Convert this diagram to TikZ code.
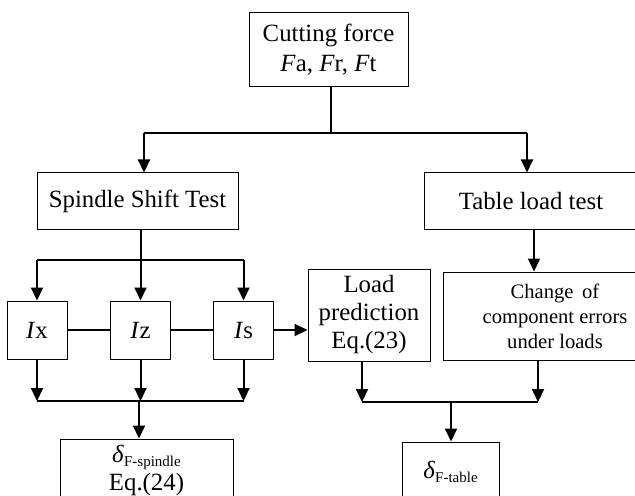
\documentclass[tikz,border=0pt]{standalone}
\usepackage{fontspec}
\setmainfont{Liberation Serif}
\usepackage{tikz}
\usetikzlibrary{arrows.meta}
\tikzstyle{arrow} = [line width=1pt,-{Triangle[length=6.5pt,width=6pt]}]
\tikzstyle{link} = [line width=1pt]
\tikzstyle{block} = [draw, line width=0.5pt, align=center, inner sep=1pt, font=\fontsize{12.4}{14}\selectfont]
\newcommand{\sub}[1]{\raisebox{-0.4ex}{\fontsize{7.5}{8}\selectfont #1}}

\begin{document}
\begin{tikzpicture}[x=0.5pt,y=-0.5pt]
\useasboundingbox (0,0) rectangle (635,496);

\node[block, minimum width=79.5pt, minimum height=37pt, font=\fontsize{12.4}{15}\selectfont] (force) at (328.5,50) {Cutting force\\ \textit{F}a, \textit{F}r, \textit{F}t};
\node[block, minimum width=100.5pt, minimum height=28.5pt] (spindle) at (137.5,201.5) {Spindle Shift Test};
\node[block, minimum width=107pt, minimum height=28.5pt] (table) at (531,201.5) {Table load test};

\foreach \n/\x in {x/37,z/140.5,s/243.5}
  \node[block, minimum width=30pt, minimum height=29pt] (I\n) at (\x,330) {\textit{I}\n};

\node[block, minimum width=61pt, minimum height=46pt] (load) at (369,315) {Load\\ prediction\\ Eq.(23)};
\node[block, minimum width=112pt, minimum height=44pt, font=\fontsize{10.3}{12.5}\selectfont] (change) at (555,316) {Change\, of\\ component errors\\ under loads};

\node[block, minimum width=86.5pt, minimum height=31pt] (dspindle) at (146.5,470) {\textit{δ}\sub{F-spindle}\\ Eq.(24)};
\node[block, minimum width=48.5pt, minimum height=30pt] (dtable) at (450.5,472) {\textit{δ}\sub{F-table}};

% cutting force to the two tests
\coordinate (split) at (331,133);
\coordinate (sl) at (144,133);
\coordinate (sr) at (527,133);
\draw[link] (split |- force.south) -- (split);
\draw[link] (sl) -- (sr);
\draw[arrow] (sl) -- (sl |- spindle.north);
\draw[arrow] (sr) -- (sr |- table.north);

% spindle shift test
\coordinate (sp) at (141,260);
\draw[link] (sp |- spindle.south) -- (sp);
\draw[link] (Ix.north |- sp) -- (Is.north |- sp);
\draw[link] (Ix) -- (Iz) (Iz) -- (Is);
\coordinate (jl) at (139,401);
\foreach \n in {x,z,s} {
  \draw[arrow] (I\n.north |- sp) -- (I\n.north);
  \draw[arrow] (I\n.south) -- (I\n.south |- jl);
}
\draw[link] (Ix.south |- jl) -- (Is.south |- jl);
\draw[arrow] (jl) -- (jl |- dspindle.north);
\draw[arrow] (Is.east) -- (Is.east -| load.west);

% table load test
\coordinate (tc) at (534,0);
\draw[arrow] (tc |- table.south) -- (tc |- change.north);
\coordinate (jr1) at (362,402);
\coordinate (jr2) at (538,402);
\coordinate (jr) at (451,402);
\draw[arrow] (jr1 |- load.south) -- (jr1);
\draw[arrow] (jr2 |- change.south) -- (jr2);
\draw[link] (jr1) -- (jr2);
\draw[arrow] (jr) -- (jr |- dtable.north);
\end{tikzpicture}
\end{document}
